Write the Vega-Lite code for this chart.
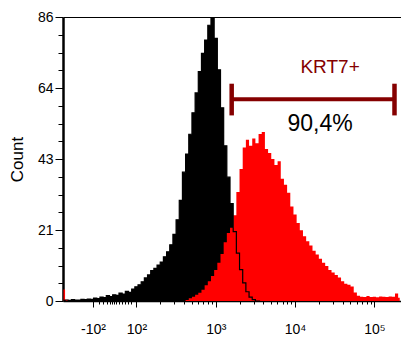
{
  "$schema": "https://vega.github.io/schema/vega-lite/v6.json",
  "width": 338,
  "height": 284,
  "autosize": {"type": "none"},
  "padding": {"left": 63, "top": 17, "right": 0, "bottom": 38},
  "config": {
    "view": {"stroke": null},
    "font": "Liberation Sans",
    "axis": {"grid": false, "labelFont": "Liberation Sans", "titleFont": "Liberation Sans", "labelColor": "black", "titleColor": "black", "tickColor": "black", "domainColor": "black", "labelFlush": false, "labelOverlap": false}
  },
  "datasets": {
    "control": [
      {"pos": 1.08, "count": 0.2}, {"pos": 1.12, "count": 0.3}, {"pos": 1.16, "count": 0.2}, {"pos": 1.20, "count": 0.4},
      {"pos": 1.24, "count": 0.3}, {"pos": 1.28, "count": 0.3}, {"pos": 1.32, "count": 0.5}, {"pos": 1.36, "count": 0.4},
      {"pos": 1.40, "count": 0.6}, {"pos": 1.44, "count": 0.5}, {"pos": 1.48, "count": 0.9}, {"pos": 1.52, "count": 0.7},
      {"pos": 1.56, "count": 1.2}, {"pos": 1.60, "count": 1.0}, {"pos": 1.64, "count": 1.6}, {"pos": 1.68, "count": 1.3},
      {"pos": 1.72, "count": 1.9}, {"pos": 1.76, "count": 1.7}, {"pos": 1.80, "count": 2.4}, {"pos": 1.84, "count": 2.1},
      {"pos": 1.88, "count": 2.9}, {"pos": 1.92, "count": 2.6}, {"pos": 1.96, "count": 3.6}, {"pos": 2.00, "count": 4.3},
      {"pos": 2.04, "count": 4.9}, {"pos": 2.08, "count": 5.8}, {"pos": 2.12, "count": 7.0}, {"pos": 2.16, "count": 7.9},
      {"pos": 2.20, "count": 9.2}, {"pos": 2.24, "count": 9.9}, {"pos": 2.28, "count": 10.9}, {"pos": 2.32, "count": 11.8},
      {"pos": 2.36, "count": 13.4}, {"pos": 2.40, "count": 14.9}, {"pos": 2.44, "count": 17.0}, {"pos": 2.48, "count": 20.2},
      {"pos": 2.52, "count": 24.6}, {"pos": 2.56, "count": 30.5}, {"pos": 2.60, "count": 39.0}, {"pos": 2.64, "count": 44.5},
      {"pos": 2.68, "count": 50.5}, {"pos": 2.72, "count": 57.0}, {"pos": 2.76, "count": 63.0}, {"pos": 2.80, "count": 69.5},
      {"pos": 2.84, "count": 75.0}, {"pos": 2.88, "count": 79.0}, {"pos": 2.92, "count": 83.5}, {"pos": 2.96, "count": 86.0},
      {"pos": 3.00, "count": 79.5}, {"pos": 3.04, "count": 70.0}, {"pos": 3.08, "count": 58.5}, {"pos": 3.12, "count": 47.0},
      {"pos": 3.16, "count": 37.5}, {"pos": 3.20, "count": 29.5}, {"pos": 3.24, "count": 21.0}, {"pos": 3.28, "count": 14.5},
      {"pos": 3.32, "count": 9.5}, {"pos": 3.36, "count": 5.5}, {"pos": 3.40, "count": 2.8}, {"pos": 3.44, "count": 1.2},
      {"pos": 3.48, "count": 0.4}, {"pos": 3.52, "count": 0}, {"pos": 3.56, "count": 0}
    ],
    "krt7": [
      {"pos": 1.08, "count": 3.5}, {"pos": 1.12, "count": 0.4}, {"pos": 1.16, "count": 0}, {"pos": 2.60, "count": 0},
      {"pos": 2.64, "count": 0.3}, {"pos": 2.68, "count": 0.8}, {"pos": 2.72, "count": 1.3}, {"pos": 2.76, "count": 1.9},
      {"pos": 2.80, "count": 2.5}, {"pos": 2.84, "count": 3.4}, {"pos": 2.88, "count": 4.8}, {"pos": 2.92, "count": 6.0},
      {"pos": 2.96, "count": 7.6}, {"pos": 3.00, "count": 9.4}, {"pos": 3.04, "count": 11.6}, {"pos": 3.08, "count": 14.2},
      {"pos": 3.12, "count": 17.8}, {"pos": 3.16, "count": 20.6}, {"pos": 3.20, "count": 22.2}, {"pos": 3.24, "count": 26.0},
      {"pos": 3.28, "count": 33.0}, {"pos": 3.32, "count": 40.0}, {"pos": 3.36, "count": 46.5}, {"pos": 3.40, "count": 48.8},
      {"pos": 3.44, "count": 47.0}, {"pos": 3.48, "count": 49.2}, {"pos": 3.52, "count": 47.8}, {"pos": 3.56, "count": 50.6},
      {"pos": 3.60, "count": 51.2}, {"pos": 3.64, "count": 46.0}, {"pos": 3.68, "count": 44.8}, {"pos": 3.72, "count": 43.0},
      {"pos": 3.76, "count": 41.2}, {"pos": 3.80, "count": 42.3}, {"pos": 3.84, "count": 37.0}, {"pos": 3.88, "count": 35.2},
      {"pos": 3.92, "count": 32.8}, {"pos": 3.96, "count": 28.6}, {"pos": 4.00, "count": 26.2}, {"pos": 4.04, "count": 23.6},
      {"pos": 4.08, "count": 21.4}, {"pos": 4.12, "count": 19.6}, {"pos": 4.16, "count": 18.1}, {"pos": 4.20, "count": 16.8},
      {"pos": 4.24, "count": 15.2}, {"pos": 4.28, "count": 14.1}, {"pos": 4.32, "count": 12.8}, {"pos": 4.36, "count": 11.6},
      {"pos": 4.40, "count": 10.6}, {"pos": 4.44, "count": 9.4}, {"pos": 4.48, "count": 8.6}, {"pos": 4.52, "count": 7.9},
      {"pos": 4.56, "count": 7.1}, {"pos": 4.60, "count": 6.0}, {"pos": 4.64, "count": 5.2}, {"pos": 4.68, "count": 4.9},
      {"pos": 4.72, "count": 4.4}, {"pos": 4.76, "count": 2.6}, {"pos": 4.80, "count": 1.6}, {"pos": 4.84, "count": 1.3},
      {"pos": 4.88, "count": 1.2}, {"pos": 4.92, "count": 1.5}, {"pos": 4.96, "count": 1.2}, {"pos": 5.00, "count": 1.3},
      {"pos": 5.04, "count": 1.1}, {"pos": 5.08, "count": 1.4}, {"pos": 5.12, "count": 1.3}, {"pos": 5.16, "count": 1.2},
      {"pos": 5.20, "count": 1.4}, {"pos": 5.24, "count": 1.3}, {"pos": 5.28, "count": 2.3}, {"pos": 5.32, "count": 1.0}
    ],
    "gate": [{"start": 3.201, "end": 5.254, "level": 61.1, "low": 56.2, "high": 65.8}],
    "caps": [{"pos": 3.201, "low": 56.2, "high": 65.8}, {"pos": 5.254, "low": 56.2, "high": 65.8}],
    "gateLabel": [{"pos": 4.442, "count": 69.1, "text": "KRT7+"}],
    "gatePct": [{"pos": 4.315, "count": 51.6, "text": "90,4%"}]
  },
  "layer": [
    {
      "data": {"name": "control"},
      "mark": {"type": "area", "interpolate": "step", "color": "black", "clip": true},
      "encoding": {
        "x": {"field": "pos", "type": "quantitative",
          "scale": {"domain": [1.074, 5.336], "nice": false, "zero": false},
          "axis": {"orient": "bottom", "title": null, "labels": false, "domain": false, "tickSize": 3, "tickWidth": 1,
            "values": [1.528, 1.579, 1.63, 1.667, 1.692, 1.717, 1.743, 1.78, 1.818, 1.856, 1.893, 1.931,
              2.301, 2.477, 2.602, 2.699, 2.778, 2.845, 2.903, 2.954,
              3.301, 3.477, 3.602, 3.699, 3.778, 3.845, 3.903, 3.954,
              4.301, 4.477, 4.602, 4.699, 4.778, 4.845, 4.903, 4.954]}},
        "y": {"field": "count", "type": "quantitative",
          "scale": {"domain": [0, 86], "nice": false},
          "axis": {"orient": "left", "title": null, "labels": false, "domain": false, "tickSize": 5, "tickWidth": 1,
            "values": [5.375, 10.75, 16.125, 26.875, 32.25, 37.625, 48.375, 53.75, 59.125, 69.875, 75.25, 80.625]}}
      }
    },
    {
      "data": {"name": "krt7"},
      "mark": {"type": "area", "interpolate": "step", "color": "#ff0000", "clip": true},
      "encoding": {
        "x": {"field": "pos", "type": "quantitative",
          "axis": {"orient": "bottom", "title": null, "values": [1.452, 2, 3, 4, 5],
            "labelExpr": "datum.value < 1.6 ? '-10²' : datum.value == 2 ? '10²' : datum.value == 3 ? '10³' : datum.value == 4 ? '10⁴' : '10⁵'",
            "tickSize": 6, "tickWidth": 1, "domainWidth": 1.5, "labelFontSize": 14,
            "labelBaseline": "alphabetic", "labelPadding": 26.5}},
        "y": {"field": "count", "type": "quantitative",
          "axis": {"orient": "left", "title": "Count", "values": [0, 21.5, 43, 64.5, 86],
            "labelExpr": "'' + floor(datum.value)",
            "tickSize": 8, "tickWidth": 1, "domainWidth": 2.5, "labelFontSize": 14, "labelPadding": 2,
            "titleFontSize": 17, "titleFontWeight": "normal", "titlePadding": 11}}
      }
    },
    {
      "data": {"name": "control"},
      "mark": {"type": "line", "interpolate": "step", "color": "black", "strokeWidth": 1.2, "clip": true},
      "encoding": {
        "x": {"field": "pos", "type": "quantitative",
          "axis": {"orient": "top", "title": null, "labels": false, "ticks": false, "domain": true, "domainWidth": 1}},
        "y": {"field": "count", "type": "quantitative", "axis": null}
      }
    },
    {
      "data": {"name": "gate"},
      "mark": {"type": "rule", "color": "#850000", "strokeWidth": 4},
      "encoding": {
        "x": {"field": "start", "type": "quantitative", "axis": null},
        "x2": {"field": "end"},
        "y": {"field": "level", "type": "quantitative", "axis": null}
      }
    },
    {
      "data": {"name": "caps"},
      "mark": {"type": "rule", "color": "#850000", "strokeWidth": 4.5},
      "encoding": {
        "x": {"field": "pos", "type": "quantitative", "axis": null},
        "y": {"field": "low", "type": "quantitative", "axis": null},
        "y2": {"field": "high"}
      }
    },
    {
      "data": {"name": "gateLabel"},
      "mark": {"type": "text", "color": "#850000", "fontSize": 19, "align": "center", "baseline": "alphabetic"},
      "encoding": {
        "x": {"field": "pos", "type": "quantitative", "axis": null},
        "y": {"field": "count", "type": "quantitative", "axis": null},
        "text": {"field": "text"}
      }
    },
    {
      "data": {"name": "gatePct"},
      "mark": {"type": "text", "color": "black", "fontSize": 23, "align": "center", "baseline": "alphabetic"},
      "encoding": {
        "x": {"field": "pos", "type": "quantitative", "axis": null},
        "y": {"field": "count", "type": "quantitative", "axis": null},
        "text": {"field": "text"}
      }
    }
  ],
  "resolve": {"axis": {"x": "independent", "y": "independent"}}
}
